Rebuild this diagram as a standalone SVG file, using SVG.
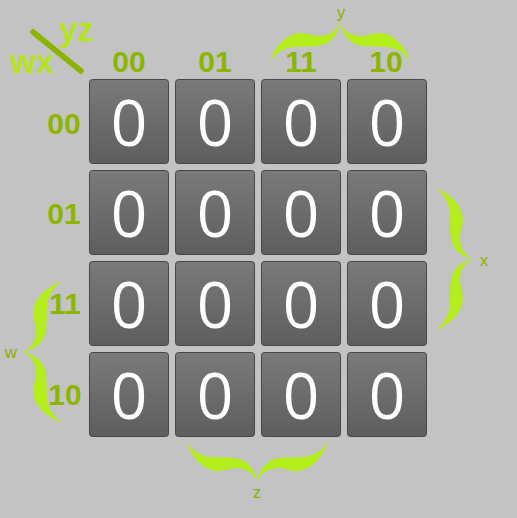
<svg xmlns="http://www.w3.org/2000/svg" xmlns:xlink="http://www.w3.org/1999/xlink" width="517" height="518" viewBox="0 0 517 518">
<style>
.hd{font-family:"Liberation Sans",Arial,sans-serif;font-weight:bold;font-size:30px;fill:#8cb500;text-anchor:middle}
.var{font-family:"Liberation Sans",Arial,sans-serif;font-weight:bold;font-size:33px;fill:#b6e41c}
.sm{font-family:"Liberation Sans",Arial,sans-serif;font-size:17px;fill:#8cb000;text-anchor:middle}
.cell rect{fill:url(#cg);stroke:#474747;stroke-width:1}
.cell text{font-family:"Open Sans","DejaVu Sans",sans-serif;font-size:64px;fill:#ffffff;text-anchor:middle}
.brace{fill:#b4ee1c}
</style>
<defs>
<linearGradient id="cg" x1="0" y1="0" x2="0" y2="1">
<stop offset="0" stop-color="#7a7a7a"/>
<stop offset="1" stop-color="#5e5e5e"/>
</linearGradient>
<path id="half" d="M0,0 C-3,9 -12,15 -24,14 C-30,13 -33,11 -40,11 C-53,12 -64,22 -71,40 C-64,31 -57,26 -46,25 C-35,24 -22,26 -13,21 C-5,16 -1,8 0,0 Z"/>
<g id="br"><use xlink:href="#half"/><use xlink:href="#half" transform="scale(-1,1)"/></g>
</defs>
<rect width="517" height="518" fill="#c3c3c3"/>

<g id="corner">
<line x1="33" y1="32" x2="81" y2="71" stroke="#8ab400" stroke-width="5.5" stroke-linecap="round"/>
<text class="var" x="59" y="41">yz</text>
<text class="var" x="10" y="73">wx</text>
</g>

<g id="col-headers">
<text class="hd" x="129" y="72">00</text>
<text class="hd" x="215" y="72">01</text>
<text class="hd" x="301" y="72">11</text>
<text class="hd" x="386" y="72">10</text>
</g>
<g id="row-headers">
<text class="hd" x="64" y="134">00</text>
<text class="hd" x="64" y="224">01</text>
<text class="hd" x="65" y="314">11</text>
<text class="hd" x="65" y="405">10</text>
</g>

<g id="braces" class="brace">
<use xlink:href="#br" transform="translate(340,22)"/>
<use xlink:href="#br" transform="translate(473,259) rotate(90) scale(1,0.93)"/>
<use xlink:href="#br" transform="translate(22,352) rotate(-90)"/>
<use xlink:href="#br" transform="translate(257,482) scale(1,-1)"/>
</g>
<g id="brace-labels">
<text class="sm" x="341" y="18">y</text>
<text class="sm" x="484" y="266">x</text>
<text class="sm" x="11" y="358">w</text>
<text class="sm" x="257" y="498">z</text>
</g>

<g id="c00" class="cell"><rect x="89.5" y="79.5" width="79" height="84" rx="3"/><text x="129" y="146">0</text></g>
<g id="c01" class="cell"><rect x="175.5" y="79.5" width="79" height="84" rx="3"/><text x="215" y="146">0</text></g>
<g id="c02" class="cell"><rect x="261.5" y="79.5" width="79" height="84" rx="3"/><text x="301" y="146">0</text></g>
<g id="c03" class="cell"><rect x="347.5" y="79.5" width="79" height="84" rx="3"/><text x="387" y="146">0</text></g>

<g id="c10" class="cell"><rect x="89.5" y="170.5" width="79" height="84" rx="3"/><text x="129" y="237">0</text></g>
<g id="c11" class="cell"><rect x="175.5" y="170.5" width="79" height="84" rx="3"/><text x="215" y="237">0</text></g>
<g id="c12" class="cell"><rect x="261.5" y="170.5" width="79" height="84" rx="3"/><text x="301" y="237">0</text></g>
<g id="c13" class="cell"><rect x="347.5" y="170.5" width="79" height="84" rx="3"/><text x="387" y="237">0</text></g>

<g id="c20" class="cell"><rect x="89.5" y="261.5" width="79" height="84" rx="3"/><text x="129" y="328">0</text></g>
<g id="c21" class="cell"><rect x="175.5" y="261.5" width="79" height="84" rx="3"/><text x="215" y="328">0</text></g>
<g id="c22" class="cell"><rect x="261.5" y="261.5" width="79" height="84" rx="3"/><text x="301" y="328">0</text></g>
<g id="c23" class="cell"><rect x="347.5" y="261.5" width="79" height="84" rx="3"/><text x="387" y="328">0</text></g>

<g id="c30" class="cell"><rect x="89.5" y="352.5" width="79" height="84" rx="3"/><text x="129" y="419">0</text></g>
<g id="c31" class="cell"><rect x="175.5" y="352.5" width="79" height="84" rx="3"/><text x="215" y="419">0</text></g>
<g id="c32" class="cell"><rect x="261.5" y="352.5" width="79" height="84" rx="3"/><text x="301" y="419">0</text></g>
<g id="c33" class="cell"><rect x="347.5" y="352.5" width="79" height="84" rx="3"/><text x="387" y="419">0</text></g>
</svg>
